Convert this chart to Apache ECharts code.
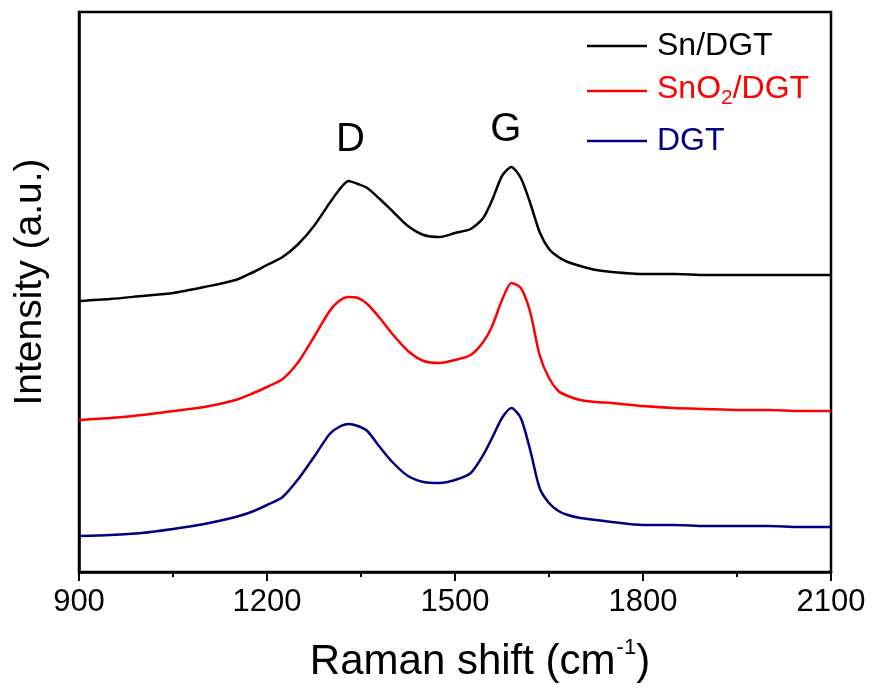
<!DOCTYPE html>
<html>
<head>
<meta charset="utf-8">
<script src="https://cdn.jsdelivr.net/npm/echarts@6/dist/echarts.min.js"></script>
<style>html,body{margin:0;padding:0;background:#fff}#c{width:873px;height:688px}</style>
</head>
<body>
<div id="c"></div>
<script>
// Raman shift (cm-1)
const ramanShift = [900,950,1000,1050,1100,1150,1175,1200,1225,1250,1275,1300,1315,1330,1345,1360,1380,1400,1425,1450,1475,1500,1525,1545,1560,1575,1590,1605,1620,1635,1650,1665,1680,1700,1725,1750,1800,1850,1900,1950,2000,2050,2100];
// Intensities (a.u., offset stacked)
const snDGT = [271,273,276,279,285,292,299,307,315,328,346,369,382,391,388,384,373,361,346,337,335,339,343,354,373,396,405,394,369,340,323,315,310,306,302,300,298,298,297,297,297,297,297];
const snO2DGT = [152,154,157,161,165,172,178,185,193,210,235,261,271,275,274,268,254,238,221,211,209,212,217,230,247,272,289,284,260,217,194,181,176,172,170,169,166,164,163,162,162,161,161];
const dgt = [36,37,39,43,48,55,60,67,75,93,115,138,145,148,146,141,125,110,96,90,89,92,99,117,135,154,164,154,122,84,69,61,57,54,52,50,47,47,46,46,46,45,45];
const xTicks = [900,1200,1500,1800,2100];
const seriesNames = ['Sn/DGT','SnO2/DGT','DGT'];
const seriesColors = ['#000000','#ff0000','#000080'];
const peakLabels = [{text:'D', x:1333, y:432}, {text:'G', x:1581, y:442}];

const FONT = '"Liberation Sans", Arial, sans-serif';
const pair = arr => ramanShift.map((x,i)=>[x,arr[i]]);
const allData = [snDGT, snO2DGT, dgt];

const chart = echarts.init(document.getElementById('c'));
const legendTops = [30, 65, 125];
const option = {
  animation: false,
  backgroundColor: '#fff',
  grid: {left:79, right:42, top:12, bottom:116, show:true, borderColor:'#000', borderWidth:2.5, backgroundColor:'transparent'},
  xAxis: {
    type:'value', min:900, max:2100, interval:300,
    axisLine:{show:true, lineStyle:{color:'#000', width:2.5}},
    axisTick:{show:true, inside:false, length:9, lineStyle:{color:'#000', width:2}},
    minorTick:{show:true, splitNumber:2, length:5, lineStyle:{color:'#000', width:2}},
    splitLine:{show:false},
    axisLabel:{color:'#000', fontSize:31, fontFamily:FONT, margin:15,
      formatter: v => xTicks.includes(v) ? String(v) : ''},
    name:'{a|Raman shift (cm}{s|-1}{a|)}',
    nameLocation:'middle', nameGap:65,
    nameTextStyle:{fontFamily:FONT, color:'#000', padding:[0,0,0,50],
      rich:{a:{fontSize:42, fontFamily:FONT, color:'#000', verticalAlign:'bottom', lineHeight:46},
            s:{fontSize:22, fontFamily:FONT, color:'#000', verticalAlign:'top', lineHeight:46, padding:[0,0,0,1]}}}
  },
  yAxis: {
    type:'value', min:0, max:560,
    axisLine:{show:true, lineStyle:{color:'#000', width:2.5}},
    axisTick:{show:false}, axisLabel:{show:false}, splitLine:{show:false},
    name:'Intensity (a.u.)', nameLocation:'middle', nameRotate:90, nameGap:29,
    nameTextStyle:{fontSize:39, fontFamily:FONT, color:'#000', padding:[0,0,0,20]}
  },
  legend: seriesNames.map((n,i)=>({
    data:[n], orient:'vertical', left:587, top:legendTops[i], padding:0,
    selectedMode:false, icon:'rect', itemWidth:60, itemHeight:2.5,
    textStyle:{fontSize:32, fontFamily:FONT, color:seriesColors[i], padding:[0,0,0,5],
      rich:{a:{fontSize:32, fontFamily:FONT, color:seriesColors[i], verticalAlign:'top', lineHeight:36},
            s:{fontSize:21, fontFamily:FONT, color:seriesColors[i], verticalAlign:'bottom', lineHeight:22, padding:[23,0,0,0]}}},
    formatter: name => name === 'SnO2/DGT' ? '{a|SnO}{s|2}{a|/DGT}' : name
  })),
  series: seriesNames.map((n,i)=>({
    name:n, type:'line', data:pair(allData[i]), showSymbol:false, symbol:'none',
    smooth:0.25, lineStyle:{color:seriesColors[i], width:2.5}, itemStyle:{color:seriesColors[i]}
  }))
};
chart.setOption(option);
// Peak annotations positioned through the axis scale
chart.setOption({
  graphic: peakLabels.map(p=>{
    const pt = chart.convertToPixel({gridIndex:0}, [p.x, p.y]);
    return {type:'text', x:pt[0], y:pt[1], style:{text:p.text, fontSize:40, fontFamily:FONT, fill:'#000', align:'center', verticalAlign:'middle'}};
  })
});
</script>
</body>
</html>
